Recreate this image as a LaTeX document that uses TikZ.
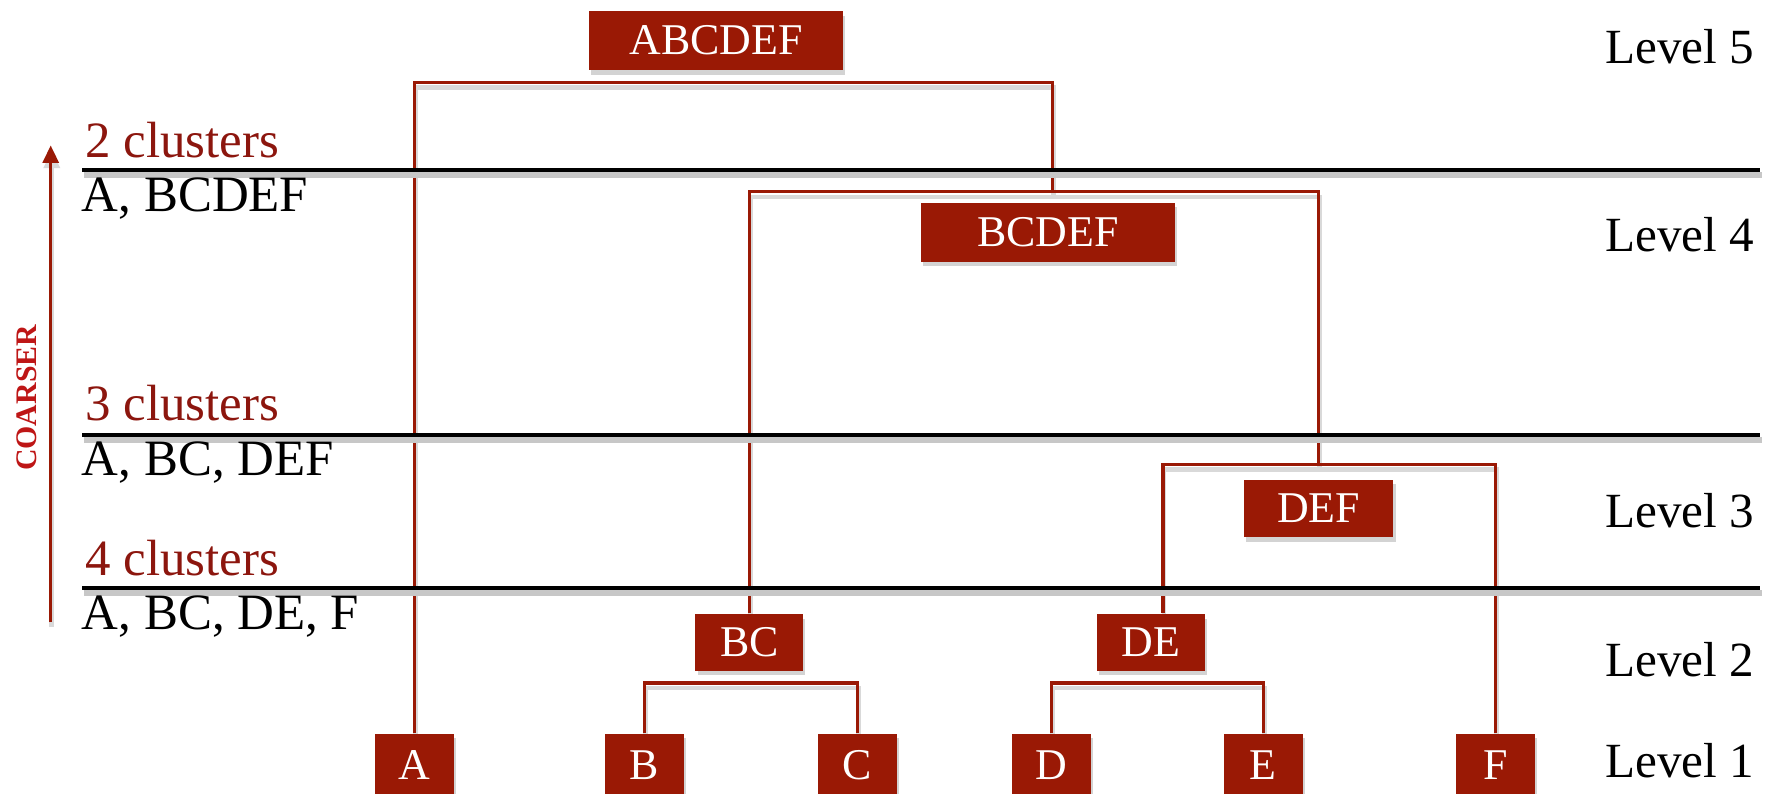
\documentclass[tikz,border=0pt]{standalone}
\usepackage{fontspec}
\setmainfont{Liberation Serif}
\usetikzlibrary{arrows.meta,shadows,backgrounds}
\definecolor{boxred}{RGB}{154,25,5}
\definecolor{clred}{RGB}{140,22,14}
\definecolor{coarse}{RGB}{190,22,22}

\begin{document}
\begin{tikzpicture}[x=0.01127cm, y=-0.01127cm, >={Triangle[length=5pt,width=4.5pt]},
  grp/.style={fill=boxred, text=white, inner sep=0pt, font=\fontsize{12.5}{14}\selectfont,
    drop shadow={shadow xshift=0.6pt, shadow yshift=-1.3pt, opacity=0.35}},
  leaf/.style={grp, minimum width=0.79cm, minimum height=0.63cm},
  pair/.style={grp, minimum width=1.08cm, minimum height=0.565cm},
  link/.style={draw=boxred, line width=1pt,
    preaction={draw=black!15, line width=1.3pt, transform canvas={xshift=0.3pt, yshift=-1.5pt}}},
  cut/.style={draw=black, line width=1.15pt,
    preaction={draw=black!22, line width=1.6pt, transform canvas={xshift=0.4pt, yshift=-1.4pt}}},
  clust/.style={anchor=base west, inner sep=0pt, text=clred, font=\fontsize{14.5}{16}\selectfont},
  memb/.style={anchor=base west, inner sep=0pt, font=\fontsize{14.5}{16}\selectfont},
  lvl/.style={anchor=base west, inner sep=0pt, font=\fontsize{14}{16}\selectfont}]

\useasboundingbox (0,0) rectangle (1568,704);
\clip (0,0) rectangle (1568,704);

% merged clusters
\node[grp, minimum width=2.54cm, minimum height=0.59cm] (abcdef) at (635.5,36) {ABCDEF};
\node[grp, minimum width=2.54cm, minimum height=0.59cm] (bcdef) at (930,206) {BCDEF};
\node[grp, minimum width=1.5cm, minimum height=0.575cm] (def) at (1170,451) {DEF};
\node[pair] (bc) at (665,570) {BC};
\node[pair] (de) at (1021.5,570) {DE};

% single points
\node[leaf] (a) at (368,679) {A};
\node[leaf] (b) at (572,679) {B};
\node[leaf] (c) at (761,679) {C};
\node[leaf] (d) at (933,679) {D};
\node[leaf] (e) at (1121,679) {E};
\node[leaf] (f) at (1327,679) {F};

\coordinate (j5) at (934,73);
\coordinate (j4) at (1170,170);
\coordinate (j3) at (1032,412);
\coordinate (jbc) at (665,606);
\coordinate (jde) at (1027,606);

\begin{scope}[on background layer]
\draw[link] (a.north) |- (j5) -- (j5 |- j4);
\draw[link] (bc.north) |- (j4) -- (j4 |- j3);
\draw[link] (j3 |- de.north) -- (j3) -| (f.north);
\draw[link] (b.north) |- (jbc) -| (c.north);
\draw[link] (d.north) |- (jde) -| (e.north);
\end{scope}

% cuts
\draw[cut] (73,151) -- (1562,151);
\draw[cut] (73,386) -- (1562,386);
\draw[cut] (73,522) -- (1562,522);

\node[clust] (k2) at (75,140) {2 clusters};
\node[memb] (m2) at (72,188) {A, BCDEF};
\node[clust] (k3) at (75,373) {3 clusters};
\node[memb] (m3) at (72,422) {A, BC, DEF};
\node[clust] (k4) at (75,511) {4 clusters};
\node[memb] (m4) at (72,559) {A, BC, DE, F};

\coordinate (arrlow) at (45,552);
\coordinate (arrhigh) at (45,129);
\draw[link, ->] (arrlow) -- (arrhigh);
\node[rotate=90, text=coarse, inner sep=0pt, font=\bfseries\fontsize{8.5}{10}\selectfont] (coarser) at (24,353) {COARSER};

\node[lvl] (l5) at (1424,56) {Level 5};
\node[lvl] (l4) at (1424,223) {Level 4};
\node[lvl] (l3) at (1424,468) {Level 3};
\node[lvl] (l2) at (1424,600) {Level 2};
\node[lvl] (l1) at (1424,690) {Level 1};
\end{tikzpicture}
\end{document}
